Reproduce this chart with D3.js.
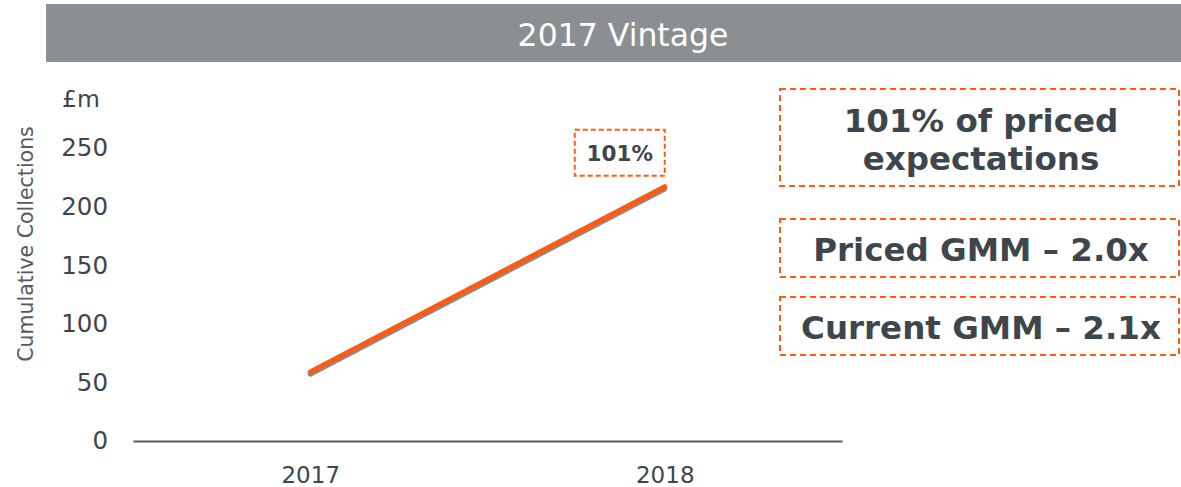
<!DOCTYPE html>
<html>
<head>
<meta charset="utf-8">
<script src="https://cdn.jsdelivr.net/npm/d3@7"></script>
<style>
  body { margin: 0; background: #fff; }
  svg { display: block; font-family: "DejaVu Sans", Verdana, sans-serif; }
</style>
</head>
<body>
<svg id="chart" width="1181" height="487"></svg>
<script>
// data
var years = ["2017", "2018"];
var pricedValues = [57, 215];    // grey line
var actualValues = [59, 217];    // orange line
var yTicks = [0, 50, 100, 150, 200, 250];
var boxTexts = [["101% of priced", "expectations"], ["Priced GMM \u2013 2.0x"], ["Current GMM \u2013 2.1x"]];
var pointLabel = "101%";

var orange = "#ff5a14";
var ink = "#3e464d";

var svg = d3.select("#chart");

// header bar
svg.append("rect")
  .attr("x", 46).attr("y", 4)
  .attr("width", 1135).attr("height", 58)
  .attr("fill", "#8c8f91");
svg.append("text")
  .attr("x", 623).attr("y", 46)
  .attr("text-anchor", "middle")
  .attr("fill", "#fff")
  .style("font-size", "31.5px")
  .text("2017 Vintage");

var x = d3.scalePoint()
  .domain(years)
  .range([133, 842])
  .padding(0.5);

var y = d3.scaleLinear()
  .domain([0, 250])
  .range([441, 148]);

// y axis labels (no line)
var yAxis = svg.append("g")
  .attr("transform", "translate(108,0)")
  .call(d3.axisLeft(y).tickValues(yTicks).tickSize(0).tickPadding(0));
yAxis.select(".domain").remove();
yAxis.selectAll("text")
  .attr("fill", ink)
  .style("font-size", "24.5px")
  .style("font-family", "DejaVu Sans, Verdana, sans-serif");

svg.append("text")
  .attr("x", 62).attr("y", 107)
  .attr("fill", ink)
  .style("font-size", "23.5px")
  .text("\u00a3m");

svg.append("text")
  .attr("transform", "translate(33,244) rotate(-90)")
  .attr("text-anchor", "middle")
  .attr("fill", "#555b60")
  .style("font-size", "20.5px")
  .text("Cumulative Collections");

// x axis
var xAxis = svg.append("g")
  .attr("transform", "translate(0," + y(0) + ")")
  .call(d3.axisBottom(x).tickSize(0).tickPadding(0));
xAxis.select(".domain")
  .attr("stroke", "#555b60")
  .attr("stroke-width", 2);
xAxis.selectAll("text")
  .attr("fill", ink)
  .attr("dy", 0)
  .attr("y", 42)
  .style("font-size", "23px")
  .style("font-family", "DejaVu Sans, Verdana, sans-serif");

var line = d3.line()
  .x(function(d, i) { return x(years[i]); })
  .y(function(d) { return y(d); });

svg.append("path")
  .datum(pricedValues)
  .attr("d", line)
  .attr("fill", "none")
  .attr("stroke", "#8a8a8a")
  .attr("stroke-width", 5)
  .attr("stroke-linecap", "round");

svg.append("path")
  .datum(actualValues)
  .attr("d", line)
  .attr("fill", "none")
  .attr("stroke", orange)
  .attr("stroke-width", 5)
  .attr("stroke-linecap", "round");

// 101% label above the end point
var lx = x(years[1]) - 45;
var ly = y(actualValues[1]) - 57;
svg.append("rect")
  .attr("x", lx - 45).attr("y", ly)
  .attr("width", 90).attr("height", 46)
  .attr("fill", "none")
  .attr("stroke", orange)
  .attr("stroke-width", 2)
  .attr("stroke-dasharray", "5,3");
svg.append("text")
  .attr("x", lx).attr("y", ly + 31)
  .attr("text-anchor", "middle")
  .attr("fill", ink)
  .style("font-size", "21.5px")
  .style("font-weight", "bold")
  .text(pointLabel);

// right-hand boxes
var boxes = [
  { y: 89, h: 97 },
  { y: 219, h: 58 },
  { y: 297, h: 58 }
];
boxes.forEach(function(b, i) {
  svg.append("rect")
    .attr("x", 780).attr("y", b.y)
    .attr("width", 399).attr("height", b.h)
    .attr("fill", "none")
    .attr("stroke", orange)
    .attr("stroke-width", 2)
    .attr("stroke-dasharray", "6,4");
  var lines = boxTexts[i];
  var t = svg.append("text")
    .attr("text-anchor", "middle")
    .attr("fill", ink)
    .style("font-size", "32.5px")
    .style("font-weight", "bold");
  lines.forEach(function(s, j) {
    t.append("tspan")
      .attr("x", 981)
      .attr("y", b.y + b.h / 2 + 13 + (j - (lines.length - 1) / 2) * 38)
      .text(s);
  });
});
</script>
</body>
</html>
